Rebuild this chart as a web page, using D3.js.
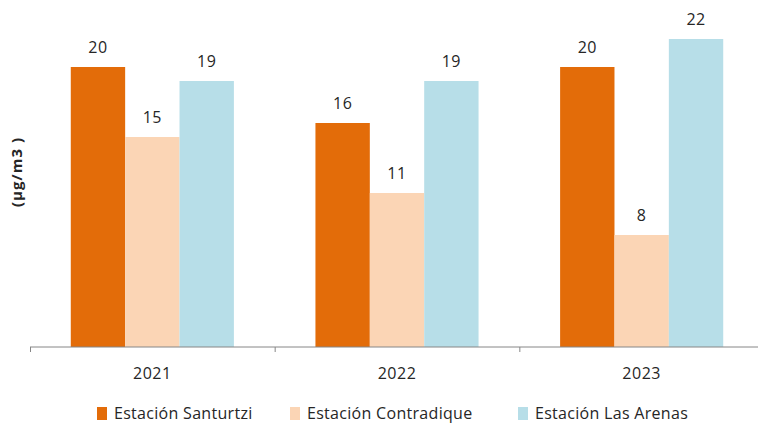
<!DOCTYPE html>
<html>
<head>
<meta charset="utf-8">
<script src="https://cdn.jsdelivr.net/npm/d3@7"></script>
<style>
  body { margin: 0; background: #fff; }
  text { font-family: "Open Sans", "Noto Sans", sans-serif; fill: #262626; }
</style>
</head>
<body>
<div id="chart"></div>
<script>
var years = ['2021', '2022', '2023'];
var seriesNames = ['Estación Santurtzi', 'Estación Contradique', 'Estación Las Arenas'];
var santurtzi = [20, 16, 20];
var contradique = [15, 11, 8];
var lasArenas = [19, 19, 22];
var colors = ['#E36C09', '#FBD5B5', '#B7DEE8'];

var width = 758, height = 424;
var baseY = 347;

var svg = d3.select('#chart').append('svg')
    .attr('width', width)
    .attr('height', height);

var rows = years.map(function(y, i) {
    return { year: y, values: [santurtzi[i], contradique[i], lasArenas[i]] };
});

var x0 = d3.scaleBand().domain(years).range([30, 764]).padding(0);
var bw = x0.bandwidth();
var x1 = d3.scaleBand().domain(seriesNames).range([bw / 6, bw * 5 / 6]).padding(0);
var y = d3.scaleLinear().domain([0, 20]).range([baseY, 67]);

var groups = svg.selectAll('.grp')
    .data(rows)
    .enter().append('g')
    .attr('class', 'grp')
    .attr('transform', function(d) { return 'translate(' + x0(d.year) + ',0)'; });

groups.selectAll('rect')
    .data(function(d) { return d.values.map(function(v, j) { return { name: seriesNames[j], v: v, c: colors[j] }; }); })
    .enter().append('rect')
    .attr('x', function(d) { return x1(d.name); })
    .attr('width', x1.bandwidth())
    .attr('y', function(d) { return y(d.v); })
    .attr('height', function(d) { return baseY - y(d.v); })
    .attr('fill', function(d) { return d.c; });

groups.selectAll('.lbl')
    .data(function(d) { return d.values.map(function(v, j) { return { name: seriesNames[j], v: v }; }); })
    .enter().append('text')
    .attr('class', 'lbl')
    .attr('x', function(d) { return x1(d.name) + x1.bandwidth() / 2; })
    .attr('y', function(d) { return y(d.v) - 14; })
    .attr('text-anchor', 'middle')
    .attr('font-size', 16)
    .attr('letter-spacing', 0.5)
    .text(function(d) { return d.v; });

// x axis
var axis = svg.append('g')
    .attr('transform', 'translate(0,' + baseY + ')')
    .call(d3.axisBottom(x0).tickSize(0).tickPadding(21));
axis.select('.domain').attr('stroke', '#868686').attr('d', 'M30,0H758');
axis.selectAll('text').attr('font-size', 16).attr('fill', '#262626')
    .attr('letter-spacing', 0.5)
    .style('font-family', '"Open Sans", "Noto Sans", sans-serif');

svg.append('g').selectAll('line')
    .data(years)
    .enter().append('line')
    .attr('x1', function(d) { return x0(d) + 0.5; })
    .attr('x2', function(d) { return x0(d) + 0.5; })
    .attr('y1', baseY)
    .attr('y2', baseY + 5)
    .attr('stroke', '#868686');

// y label
svg.append('text')
    .attr('transform', 'translate(22,172) rotate(-90)')
    .attr('text-anchor', 'middle')
    .attr('font-size', 15)
    .attr('font-weight', 'bold')
    .attr('letter-spacing', 1)
    .text('(µg/m3 )');

// legend
var legX = [97, 290, 518];
var leg = svg.selectAll('.leg')
    .data(seriesNames)
    .enter().append('g')
    .attr('class', 'leg')
    .attr('transform', function(d, i) { return 'translate(' + legX[i] + ',407)'; });
leg.append('rect')
    .attr('width', 10).attr('height', 13)
    .attr('fill', function(d, i) { return colors[i]; });
leg.append('text')
    .attr('x', 17).attr('y', 12)
    .attr('font-size', 16)
    .attr('letter-spacing', 0.3)
    .text(function(d) { return d; });
</script>
</body>
</html>
